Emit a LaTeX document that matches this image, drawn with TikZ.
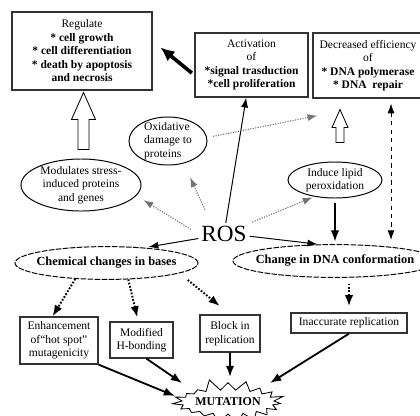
\documentclass[tikz,border=0pt]{standalone}
\usepackage{fontspec}
\setmainfont{Liberation Serif}
\usetikzlibrary{calc, arrows.meta, shapes.geometric, shapes.symbols, positioning}

\begin{document}
\begin{tikzpicture}[x=0.025cm, y=-0.025cm,
	every node/.style={font=\fontsize{8.2}{9.6}\selectfont, align=center},
	box/.style={draw=black!80, line width=0.9pt, inner sep=0pt},
	oval/.style={draw, ellipse, line width=0.7pt, inner sep=-6pt},
	dashoval/.style={oval, dash pattern=on 4pt off 1pt, font=\fontsize{8.8}{10}\selectfont\bfseries},
	thinarr/.style={line width=0.7pt, -{Latex[length=7pt,width=5pt]}},
	medarr/.style={line width=1.3pt, -{Latex[length=8pt,width=6pt]}},
	fatarr/.style={line width=2.6pt, -{Latex[length=10pt,width=9pt]}},
	dotarr/.style={black!55, line width=0.8pt, densely dotted, -{Latex[length=7pt,width=5pt]}},
	bolddot/.style={line width=1.4pt, dash pattern=on 1.2pt off 1.2pt, -{Latex[length=8pt,width=6pt]}},
	dasharr/.style={line width=0.7pt, dashed, {Latex[length=7pt,width=5pt]}-{Latex[length=7pt,width=5pt]}},
	hollow/.style={draw, fill=white, line width=0.6pt}]
	\useasboundingbox (0,0) rectangle (420,415);
	\clip (0,0) rectangle (420,415);

	% top row
	\node[box, minimum width=3.5cm, minimum height=1.95cm] (reg) at (82,51)
		{Regulate\\\textbf{* cell growth}\\\textbf{* cell differentiation}\\\textbf{* death by apoptosis}\\\textbf{and necrosis}};
	\node[box, minimum width=2.825cm, minimum height=1.6cm] (act) at (251.5,65)
		{Activation\\of\\\textbf{*signal trasduction}\\\textbf{*cell proliferation}};
	\node[box, minimum width=2.75cm, minimum height=1.625cm] (dec) at (368,65.5)
		{Decreased efficiency\\of\\\textbf{* DNA polymerase}\\\textbf{* DNA\ \ repair}};

	% effects of ROS
	\node[oval, minimum width=1.95cm, minimum height=1.2cm, align=left] (oxid) at (168,141) {Oxidative\\damage to\\proteins};
	\node[oval, minimum width=3cm, minimum height=1.3cm] (mod) at (81,185) {Modulates stress-\\induced proteins\\and genes};
	\node[oval, minimum width=2.35cm, minimum height=0.9cm] (lipid) at (335,180) {Induce lipid\\peroxidation};
	\node[font=\fontsize{16.5}{18}\selectfont, inner sep=2pt] (ros) at (224,234) {ROS};
	\node[dashoval, minimum width=4.575cm, minimum height=0.82cm] (chem) at (106.5,263) {Chemical changes in bases};
	\node[dashoval, minimum width=5.1cm, minimum height=0.82cm] (dna) at (335,261) {Change in DNA conformation};

	% bottom row
	\node[box, minimum width=1.95cm, minimum height=1.175cm] (enh) at (59,340.5) {Enhancement\\of``hot spot''\\mutagenicity};
	\node[box, minimum width=1.575cm, minimum height=0.9cm] (hbond) at (141.5,340) {Modified\\H-bonding};
	\node[box, minimum width=1.5cm, minimum height=0.925cm] (block) at (230,333.5) {Block in\\replication};
	\node[box, minimum width=2.9cm, minimum height=0.5cm] (inacc) at (349,323) {Inaccurate replication};
	\node[starburst, draw, fill=white, line width=0.6pt, starburst points=19, starburst point height=0.3cm,
		random starburst=5, minimum width=2.4cm, minimum height=1.2cm, inner sep=0pt,
		font=\fontsize{8.5}{10}\selectfont\bfseries] (mut) at (228,402) {MUTATION};

	% hollow arrows
	\draw[hollow] ($(mod.north)+(-3,-9)$) -- ++(0,-30) -- ++(-6.5,0) -- ++(12,-27) -- ++(12,27) -- ++(-6.5,0) -- ++(0,30) -- cycle;
	\draw[hollow] ($(lipid.north)+(1,-19)$) -- ++(0,-15) -- ++(-4,0) -- ++(8,-18) -- ++(8,18) -- ++(-4,0) -- ++(0,15) -- cycle;

	% connectors
	\draw[fatarr, shorten <=0.08cm, shorten >=0.25cm] (act.190) -- (reg.8);
	\draw[thinarr] (ros) -- (act);
	\draw[dotarr, shorten <=0.37cm, shorten >=0.38cm] (ros.140) -- (oxid.-55);
	\draw[dotarr, shorten <=0.22cm, shorten >=0.21cm] (ros.west) -- (mod.-11);
	\draw[dotarr, shorten <=0.07cm, shorten >=0.05cm] (ros.north east) -- (lipid.-141);
	\draw[dotarr, shorten <=0.15cm] (oxid.5) -- ($(dec.south west)+(5,17)$);
	\draw[thinarr, shorten >=0.1cm] (ros.190) -- (chem.22);
	\draw[thinarr, shorten >=0.04cm] (ros.-5) -- (dna.134);
	\draw[medarr, shorten <=0.12cm, shorten >=0.06cm] (lipid.south) -- (lipid.south |- dna.north);
	\draw[dasharr, shorten <=0.12cm, shorten >=0.1cm] ([xshift=0.575cm]dec.south) -- ([xshift=0.575cm]dec.south |- dna.north);

	\draw[bolddot] (chem.-153.4) -- (enh.105);
	\draw[bolddot, shorten >=0.1cm] (chem.-37) -- (hbond.100);
	\draw[bolddot, shorten <=0.265cm, shorten >=0.33cm] (chem.-8.5) -- (block.north);
	\draw[bolddot, shorten <=0.14cm, shorten >=0.15cm] (inacc.north |- dna.south) -- (inacc.north);

	\draw[medarr] (enh.south east) -- ($(mut)+(-53,-6)$);
	\draw[medarr] (hbond.-75) -- ($(mut)+(-46,-19)$);
	\draw[medarr] (block.south) -- ($(mut)+(2,-25)$);
	\draw[medarr] (inacc.south) -- ($(mut)+(42,-19)$);
\end{tikzpicture}
\end{document}
